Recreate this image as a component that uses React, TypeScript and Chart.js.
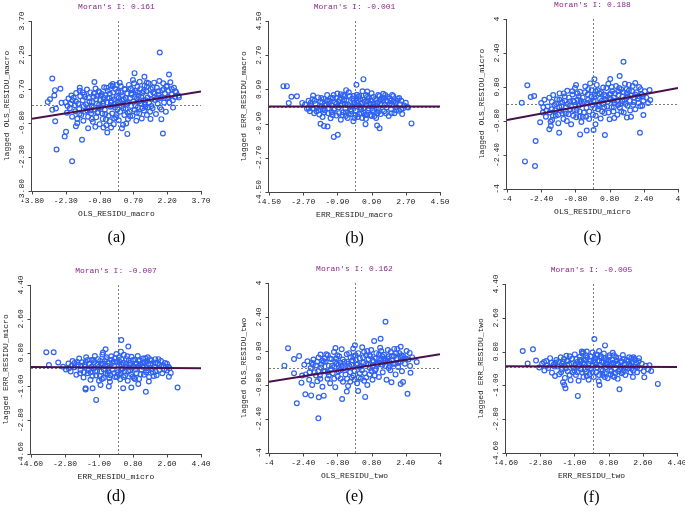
import React, { useEffect, useRef } from "react";
import { Chart, registerables } from "chart.js";

Chart.register(...registerables);

type P = [number, number];

// ---------- data ----------
const titles = ["Moran's I: 0.161", "Moran's I: -0.001", "Moran's I: 0.188", "Moran's I: -0.007", "Moran's I: 0.162", "Moran's I: -0.005"];
const xTitles = ["OLS_RESIDU_macro", "ERR_RESIDU_macro", "OLS_RESIDU_micro", "ERR_RESIDU_micro", "OLS_RESIDU_two", "ERR_RESIDU_two"];
const yTitles = ["lagged OLS_RESIDU_macro", "lagged ERR_RESIDU_macro", "lagged OLS_RESIDU_micro", "lagged ERR_RESIDU_micro", "lagged OLS_RESIDU_two", "lagged ERR_RESIDU_two"];
const letters = ["(a)", "(b)", "(c)", "(d)", "(e)", "(f)"];
const slopes = [0.161, -0.001, 0.188, -0.007, 0.162, -0.005];

const ticksA = [-3.8, -2.3, -0.8, 0.7, 2.2, 3.7];
const labelsA = ["-3.80", "-2.30", "-0.80", "0.70", "2.20", "3.70"];
const ticksB = [-4.5, -2.7, -0.9, 0.9, 2.7, 4.5];
const labelsB = ["-4.50", "-2.70", "-0.90", "0.90", "2.70", "4.50"];
const ticksC = [-4, -2.4, -0.8, 0.8, 2.4, 4];
const labelsC = ["-4", "-2.40", "-0.80", "0.80", "2.40", "4"];
const ticksD = [-4.6, -2.8, -1.0, 0.8, 2.6, 4.4];
const labelsD = ["-4.60", "-2.80", "-1.00", "0.80", "2.60", "4.40"];

const pointsA: P[] = [
  [1.87,2.31],[-2.9,1.16],[-1.03,1.01],[0.75,1.4],[2.28,1.34],[1.19,1.24],[-2.71,-1.97],[-2.02,-2.49],[-1.58,-1.54],[-2.35,-1.4],
  [-2.29,-1.19],[0.43,-1.28],[2.01,-1.26],[-0.46,-1.22],[0.19,-1.03],[-2.78,0.65],[-2.81,0.41],[-2.54,0.71],[-3.1,0.13],[-3.0,0.25],
  [-2.9,-0.22],[-2.74,-0.16],[-2.77,-0.72],[-2.49,0.09],[-1.68,0.75],[1.94,-0.63],[1.46,-0.62],[1.88,-0.12],[2.46,-0.12],[2.72,0.32],
  [2.56,0.6],[2.18,0.84],[1.29,0.99],[-0.04,0.88],[-0.22,0.82],[-1.79,-0.81],[-1.85,-0.94],[-1.31,-1.03],[-0.99,-0.97],[-0.63,-1.0],[-0.29,-1.0],
  [-2.31,0.12],[-2.25,-0.35],[-2.18,0.28],[-2.12,-0.15],[-2.05,0.41],[-2.02,-0.52],[-2.22,-0.05],[-2.09,0.05],
  [-1.95,0.31],[-1.88,-0.28],[-1.84,0.52],[-1.79,-0.61],[-1.75,0.05],[-1.71,-0.18],[-1.66,0.38],[-1.62,-0.45],[-1.9,-0.02],[-1.68,0.62],
  [-1.55,0.2],[-1.52,-0.7],[-1.48,0.45],[-1.44,-0.3],[-1.4,0.02],[-1.36,0.68],[-1.31,-0.52],[-1.28,0.3],[-1.26,-0.12],[-1.5,-0.05],
  [-1.21,0.55],[-1.18,-0.38],[-1.14,0.12],[-1.1,-0.75],[-1.06,0.36],[-1.02,-0.2],[-0.98,0.72],[-0.95,-0.55],[-0.92,0.05],[-1.15,-0.62],[-0.9,0.4],
  [-0.87,-0.32],[-0.84,0.6],[-0.8,-0.85],[-0.77,0.22],[-0.73,-0.1],[-0.7,0.48],[-0.66,-0.62],[-0.63,0.15],[-0.6,0.78],[-0.82,0.0],[-0.68,-0.38],
  [-0.57,-0.22],[-0.54,0.42],[-0.5,-0.9],[-0.47,0.1],[-0.44,0.62],[-0.4,-0.48],[-0.37,0.3],[-0.33,-0.08],[-0.3,0.85],[-0.52,-0.65],[-0.35,-0.72],
  [-0.27,0.18],[-0.24,-0.38],[-0.2,0.55],[-0.17,-0.85],[-0.14,0.02],[-0.1,0.7],[-0.07,-0.55],[-0.04,0.35],[-0.01,-0.2],[-0.22,0.92],[-0.12,-0.12],
  [0.02,0.6],[0.05,-0.68],[0.08,0.15],[0.11,-0.3],[0.14,0.82],[0.17,-0.05],[0.2,0.42],[0.24,-0.88],[0.27,0.25],[0.3,-0.45],[0.09,0.98],
  [0.33,0.68],[0.36,-0.18],[0.4,0.05],[0.43,0.5],[0.46,-0.62],[0.5,0.88],[0.53,-0.3],[0.56,0.3],[0.6,-0.05],[0.38,-0.82],[0.58,0.72],
  [0.63,0.45],[0.66,-0.48],[0.7,0.15],[0.73,0.95],[0.76,-0.22],[0.8,0.62],[0.83,-0.7],[0.86,0.28],[0.9,-0.1],[0.68,1.1],[0.88,0.8],
  [0.93,0.4],[0.96,-0.38],[1.0,0.7],[1.04,0.05],[1.07,-0.6],[1.1,0.52],[1.14,0.2],[1.17,-0.25],[1.2,0.85],[0.98,1.02],
  [1.23,-0.08],[1.27,0.6],[1.3,-0.45],[1.33,0.32],[1.37,0.95],[1.4,0.1],[1.44,-0.3],[1.47,0.7],[1.5,0.25],
  [1.55,-0.15],[1.58,0.55],[1.62,0.98],[1.66,0.22],[1.7,-0.4],[1.74,0.75],[1.78,0.05],[1.82,0.45],[1.85,1.05],
  [1.9,0.3],[1.94,-0.2],[1.98,0.65],[2.02,0.95],[2.06,0.1],[2.1,0.5],[2.14,-0.3],[2.18,0.8],[2.2,0.3],
  [2.25,0.62],[2.3,0.1],[2.34,1.0],[2.4,0.45],[2.45,0.2],[2.5,0.75],[2.55,0.35],[2.6,0.55],[2.7,0.4],
  [-1.45,0.35],[-1.35,-0.25],[-1.25,0.15],[-1.15,-0.05],[-1.05,0.5],[-0.95,0.25],[-0.85,-0.15],[-0.75,0.4],[-0.65,0.05],[-0.55,-0.4],
  [-0.45,0.3],[-0.35,0.5],[-0.25,-0.05],[-0.15,0.25],[-0.05,-0.45],[0.05,0.3],[0.15,0.55],[0.25,-0.15],[0.35,0.3],[0.45,0.1],
  [0.55,-0.5],[0.65,0.65],[0.75,0.35],[0.85,-0.35],[0.95,0.15],[1.05,0.35],[1.15,0.6],[1.25,0.2],[1.35,-0.1],[1.45,0.45],
  [1.55,0.75],[1.65,0.5],[1.75,0.3],[1.95,0.35],[2.05,0.7],[2.25,0.35],[-1.7,-0.4],[-1.55,0.55],[-2.0,0.2],[-1.85,0.15],
  [-0.6,0.3],[-0.3,0.1],[0.0,0.1],[0.3,0.7],[0.6,0.5],[0.9,0.55],[1.2,0.0],[1.5,-0.05],[-0.9,-0.35],[-1.2,-0.25],
  [-0.15,-0.6],[0.45,-0.35],[0.8,-0.05],[1.1,-0.15],[-0.5,0.75],[0.2,0.2],[-0.8,0.55],[1.3,0.8],[1.8,0.6],[2.4,0.7],
];

const pointsB: P[] = [
  [-3.74,1.07],[-3.56,1.07],[0.47,1.44],[0.1,1.14],[-3.32,0.51],[-3.03,0.54],[-2.75,0.19],[-3.46,0.18],[-2.18,0.58],[-1.79,-0.91],
  [-1.61,-1.02],[-1.42,-1.05],[-1.09,-1.6],[-0.88,-1.49],[3.0,-0.89],[1.19,-1.0],[1.32,-1.14],[0.58,-0.93],[2.51,-0.4],[2.82,-0.05],
  [-0.44,0.86],[-0.72,0.65],[1.98,0.61],[1.51,0.67],[0.67,0.79],
  [-2.6,0.1],[-2.5,-0.12],[-2.42,0.3],[-2.35,-0.25],[-2.28,0.05],[-2.2,0.38],[-2.12,-0.35],[-2.05,0.15],[-1.98,-0.08],[-1.92,0.48],
  [-1.85,-0.42],[-1.8,0.25],[-1.74,0.0],[-1.68,-0.55],[-1.62,0.4],[-1.56,-0.2],[-1.5,0.12],[-1.44,0.6],[-1.38,-0.35],[-1.32,0.3],
  [-1.26,-0.62],[-1.2,0.05],[-1.14,0.45],[-1.08,-0.18],[-1.02,0.22],[-0.96,-0.48],[-0.9,0.68],[-0.84,-0.05],[-0.78,0.35],[-0.72,-0.7],
  [-0.66,0.12],[-0.6,-0.3],[-0.54,0.55],[-0.48,-0.12],[-0.42,0.3],[-0.36,-0.6],[-0.3,0.75],[-0.24,0.02],[-0.18,-0.4],[-0.12,0.42],
  [-0.06,-0.78],[0.0,0.18],[0.06,-0.22],[0.12,0.62],[0.18,-0.55],[0.24,0.05],[0.3,0.38],[0.36,-0.35],[0.42,0.8],[0.48,-0.08],
  [0.54,0.25],[0.6,-0.65],[0.66,0.5],[0.72,-0.2],[0.78,0.12],[0.84,-0.45],[0.9,0.7],[0.96,0.0],[1.02,-0.3],[1.08,0.4],
  [1.14,-0.6],[1.2,0.2],[1.26,-0.1],[1.32,0.55],[1.38,-0.4],[1.44,0.08],[1.5,0.32],[1.56,-0.25],[1.62,0.6],[1.68,-0.05],
  [1.74,0.25],[1.8,-0.5],[1.86,0.42],[1.92,-0.15],[1.98,0.1],[2.04,0.55],[2.1,-0.35],[2.16,0.2],[2.22,-0.05],[2.28,0.4],
  [2.34,-0.22],[2.4,0.12],[2.46,0.3],[2.55,-0.1],[2.62,0.05],[2.7,0.2],[2.78,-0.02],
  [-2.0,-0.25],[-1.7,0.2],[-1.4,-0.1],[-1.1,0.6],[-0.8,-0.35],[-0.5,0.15],[-0.2,-0.15],[0.1,0.3],[0.4,-0.6],[0.7,0.3],
  [1.0,0.5],[1.3,-0.25],[1.6,0.1],[1.9,0.3],[2.2,-0.2],[-1.2,-0.3],[-0.7,0.45],[-0.3,-0.4],[0.2,0.5],[0.5,-0.35],
  [0.85,0.15],[1.15,0.05],[-0.95,0.15],[-0.05,0.55],[0.3,-0.05],[-1.6,-0.3],[1.45,0.45],[-0.45,-0.5],[0.65,-0.45],[-2.3,0.2],
  [-2.1,0.3],[-1.9,-0.2],[-1.75,0.45],[-1.55,0.05],[-1.35,0.15],[-1.15,-0.45],[-0.95,0.45],[-0.85,0.25],[-0.65,-0.45],[-0.55,0.35],
  [-0.35,0.1],[-0.25,0.55],[-0.15,-0.25],[0.05,-0.45],[0.15,0.2],[0.25,0.55],[0.35,-0.15],[0.45,0.35],[0.55,-0.45],[0.65,0.05],
  [0.75,0.45],[0.85,0.3],[0.95,-0.2],[1.05,-0.5],[1.15,0.35],[1.25,0.6],[1.35,0.15],[1.55,0.45],[1.65,-0.35],[1.75,0.5],
  [1.95,-0.35],[2.05,0.25],[2.25,0.3],[2.45,-0.15],[-2.4,-0.1],[-1.25,0.45],[-0.75,0.05],[-0.05,0.3],[0.6,0.6],[1.0,0.1],
  [-1.65,-0.15],[-1.05,-0.1],[-0.45,-0.3],[0.25,-0.4],[0.9,-0.5],[1.4,0.35],[1.85,0.15],[-0.6,0.6],[-0.1,0.0],[0.4,0.2],
  [-2.2,-0.1],[1.2,-0.35],[2.35,0.45],[-1.45,0.3],[0.0,-0.6],[0.75,-0.1],
];

const pointsC: P[] = [
  [1.45,1.99],[-3.16,-2.7],[-2.69,-2.92],[-2.66,-1.74],[-3.05,0.88],[-3.31,0.06],[-2.89,0.33],[-2.73,0.38],[-2.45,-0.86],[-2.02,-1.19],
  [-1.56,-1.35],[-0.58,-1.43],[-0.27,-1.25],[0.05,-1.22],[0.58,-1.46],[2.22,-1.35],[2.38,-0.52],[2.33,-0.08],[2.7,0.19],[2.67,0.66],
  [2.0,0.99],[1.27,1.32],[0.83,1.18],[-0.77,0.89],[0.09,1.16],[-0.11,0.97],[1.8,-0.6],[1.61,-0.64],[1.02,-0.66],[-1.89,-0.75],[-1.95,-1.04],
  [-2.4,0.05],[-2.32,-0.4],[-2.25,0.2],[-2.18,-0.6],[-2.1,-0.12],[-2.02,0.3],[-1.96,-0.82],[-1.9,-0.25],[-1.84,0.42],[-1.78,-0.05],
  [-1.72,-0.55],[-1.66,0.22],[-1.6,-0.9],[-1.54,0.5],[-1.48,-0.32],[-1.42,0.08],[-1.36,-0.7],[-1.3,0.35],[-1.24,-0.15],[-1.18,0.62],
  [-1.12,-0.48],[-1.06,0.12],[-1.0,-0.95],[-0.94,0.45],[-0.88,-0.28],[-0.82,0.75],[-0.76,-0.62],[-0.7,0.2],[-0.64,-0.08],[-0.58,0.58],
  [-0.52,-0.85],[-0.46,0.3],[-0.4,-0.4],[-0.34,0.82],[-0.28,-0.18],[-0.22,0.45],[-0.16,-0.7],[-0.1,0.1],[-0.04,0.65],[0.02,-0.5],
  [0.08,0.32],[0.14,-0.95],[0.2,0.9],[0.26,-0.25],[0.32,0.5],[0.38,-0.68],[0.44,0.15],[0.5,0.78],[0.56,-0.42],[0.62,0.38],
  [0.68,-0.12],[0.74,0.95],[0.8,-0.72],[0.86,0.22],[0.92,0.6],[0.98,-0.35],[1.04,0.05],[1.1,0.85],[1.16,-0.5],[1.22,0.42],
  [1.28,-0.18],[1.34,0.7],[1.4,0.12],[1.46,-0.4],[1.52,0.95],[1.58,0.3],[1.64,-0.08],[1.7,0.62],[1.76,-0.3],[1.82,0.4],
  [1.88,0.85],[1.94,0.1],[2.0,-0.25],[2.06,0.55],[2.12,0.25],[2.18,0.8],[2.24,-0.1],[2.3,0.45],[2.38,0.15],[2.45,0.6],[2.52,0.3],[2.6,0.05],
  [-2.0,-0.4],[-1.7,0.0],[-1.4,-0.45],[-1.1,0.3],[-0.8,-0.05],[-0.5,0.05],[-0.2,0.2],[0.1,-0.2],[0.4,0.55],[0.7,0.1],
  [1.0,0.3],[1.3,0.0],[1.6,0.5],[1.9,-0.05],[2.2,0.35],[-1.2,-0.8],[-0.6,-0.35],[0.0,-0.05],[0.3,0.0],[0.9,-0.15],
  [1.2,0.6],[-0.9,0.15],[-0.3,-0.6],[0.55,-0.15],[1.5,0.2],[-1.55,-0.15],[0.15,0.6],[-0.7,0.5],[0.8,0.45],[1.75,0.15],
  [-1.9,0.1],[-1.75,-0.3],[-1.55,0.2],[-1.45,-0.1],[-1.35,0.5],[-1.25,-0.45],[-1.15,0.0],[-1.05,-0.25],[-0.95,0.6],[-0.85,0.1],
  [-0.75,-0.3],[-0.65,0.35],[-0.55,0.15],[-0.45,-0.6],[-0.35,0.55],[-0.25,0.05],[-0.15,-0.35],[-0.05,0.35],[0.05,0.15],[0.15,-0.55],
  [0.25,0.65],[0.35,0.25],[0.45,-0.35],[0.55,0.45],[0.65,0.75],[0.75,-0.4],[0.85,0.5],[0.95,0.15],[1.05,0.5],[1.15,0.15],
  [1.25,0.75],[1.35,-0.35],[1.45,0.55],[1.55,0.0],[1.65,0.35],[1.85,0.6],[1.95,0.3],[2.15,0.05],[2.25,0.7],[2.35,0.35],
  [-2.15,-0.3],[-2.3,-0.15],[-1.6,-0.5],[-0.6,-0.6],[-0.2,0.7],[0.3,-0.1],[0.6,0.2],[1.0,-0.15],[1.4,0.35],[1.7,0.9],
  [-1.3,0.15],[-0.9,-0.55],[-0.4,0.1],[0.1,0.45],[0.5,0.0],[0.9,0.8],[1.2,-0.05],[1.6,0.7],[2.0,0.45],[-1.85,-0.55],
];

const pointsD: P[] = [
  [-3.79,0.82],[-3.4,0.82],[-3.65,0.14],[-3.16,0.27],[0.18,1.47],[0.55,1.12],[0.16,0.85],[-0.65,0.98],[-0.79,0.8],[-1.71,-1.1],
  [-1.71,-1.16],[-1.34,-1.1],[-1.15,-1.72],[0.28,-1.1],[0.71,-1.06],[1.08,-0.87],[1.48,-1.29],[3.16,-1.06],[2.7,-0.48],[2.73,-0.04],
  [1.64,-0.74],[-0.92,-0.92],[-0.48,-1.0],
  [-2.9,0.05],[-2.75,-0.1],[-2.62,0.22],[-2.5,-0.2],[-2.4,0.35],[-2.3,0.02],[-2.2,-0.38],[-2.12,0.15],[-2.05,0.48],[-1.98,-0.12],
  [-1.9,0.28],[-1.82,-0.52],[-1.75,0.05],[-1.68,0.55],[-1.6,-0.3],[-1.52,0.2],[-1.45,-0.65],[-1.38,0.4],[-1.3,-0.05],[-1.22,0.62],
  [-1.15,-0.42],[-1.08,0.15],[-1.0,-0.7],[-0.94,0.35],[-0.88,-0.2],[-0.82,0.7],[-0.75,-0.55],[-0.68,0.08],[-0.62,0.45],[-0.55,-0.35],
  [-0.48,0.25],[-0.42,-0.75],[-0.35,0.6],[-0.28,-0.1],[-0.22,0.32],[-0.15,-0.5],[-0.08,0.72],[-0.02,-0.25],[0.05,0.12],[0.12,-0.62],
  [0.18,0.45],[0.25,-0.05],[0.32,0.68],[0.38,-0.42],[0.45,0.2],[0.52,-0.7],[0.58,0.38],[0.65,-0.15],[0.72,0.58],[0.78,-0.48],
  [0.85,0.05],[0.92,0.42],[0.98,-0.3],[1.05,0.62],[1.12,-0.6],[1.18,0.18],[1.25,-0.1],[1.32,0.48],[1.38,-0.38],[1.45,0.28],
  [1.52,-0.02],[1.58,0.55],[1.65,-0.5],[1.72,0.15],[1.78,0.38],[1.85,-0.25],[1.92,0.05],[1.98,0.45],[2.05,-0.4],[2.12,0.22],
  [2.2,-0.12],[2.28,0.35],[2.35,-0.3],[2.42,0.1],[2.5,0.25],[2.58,-0.15],[2.68,0.05],[2.8,-0.28],
  [-2.0,-0.3],[-1.7,0.3],[-1.4,0.05],[-1.1,-0.2],[-0.8,0.2],[-0.5,-0.05],[-0.2,0.1],[0.1,0.3],[0.4,0.05],[0.7,-0.35],
  [1.0,0.2],[1.3,0.25],[1.6,0.2],[1.9,-0.45],[2.2,0.15],[-1.25,0.3],[-0.65,-0.3],[-0.05,-0.5],[0.3,0.25],[0.95,-0.1],
  [1.5,-0.25],[-0.95,-0.45],[0.6,0.15],[-0.35,0.4],[0.15,-0.3],[1.15,0.4],[-1.55,-0.15],[2.0,0.25],[-0.45,-0.55],[0.85,-0.55],
  [-2.15,0.3],[-1.95,0.1],[-1.8,-0.25],[-1.6,0.4],[-1.45,-0.25],[-1.3,0.4],[-1.2,-0.2],[-1.05,0.45],[-0.9,0.2],[-0.75,-0.1],
  [-0.7,0.35],[-0.55,0.1],[-0.4,-0.4],[-0.3,0.25],[-0.15,0.5],[-0.05,0.3],[0.05,-0.35],[0.2,0.15],[0.3,-0.5],[0.45,0.45],
  [0.55,-0.2],[0.65,0.25],[0.8,0.4],[0.9,-0.6],[1.05,0.05],[1.2,-0.35],[1.3,0.05],[1.45,0.5],[1.6,-0.15],[1.7,0.45],
  [1.85,0.2],[2.0,-0.2],[2.15,0.45],[2.3,0.05],[2.45,-0.1],[-2.45,0.1],[-2.6,-0.05],[-1.0,0.05],[-0.2,-0.3],[0.5,0.6],
  [1.35,0.25],[-0.85,-0.6],[0.05,0.55],[0.7,0.0],[1.1,0.35],[-1.35,-0.45],[-0.6,0.55],[0.35,-0.2],[1.8,-0.1],[2.6,0.2],
  [-1.75,0.15],[0.95,0.2],[-0.5,-0.2],[0.2,-0.1],[1.55,0.35],[-2.3,0.25],
];

const pointsE: P[] = [
  [1.45,2.18],[-3.11,0.93],[-3.28,0.11],[-2.83,0.42],[-2.83,-0.25],[-2.59,0.56],[-2.7,-1.66],[-2.48,-0.69],[-2.3,-1.24],[-2.03,-1.29],
  [-1.67,-1.38],[-1.44,-1.3],[-1.69,-2.37],[-0.58,-1.46],[-0.36,-1.11],[0.17,-1.08],[0.5,-1.36],[2.48,-1.21],[2.16,-0.75],[2.27,-0.66],
  [1.73,-0.67],[2.62,-0.22],[2.91,0.28],[2.58,0.71],[1.22,1.38],[0.92,1.27],[2.16,1.0],[-0.89,0.94],[0.02,1.07],[-1.59,0.63],[-2.45,-0.35],
  [-2.35,0.15],[-2.28,-0.3],[-2.2,0.32],[-2.12,-0.55],[-2.05,0.0],[-1.98,-0.8],[-1.92,0.4],[-1.86,-0.2],[-1.8,0.12],[-1.74,-0.62],
  [-1.68,0.5],[-1.62,-0.35],[-1.56,0.02],[-1.5,-0.88],[-1.44,0.3],[-1.38,-0.15],[-1.32,0.65],[-1.26,-0.5],[-1.2,0.1],[-1.14,-0.72],
  [-1.08,0.42],[-1.02,-0.25],[-0.96,0.75],[-0.9,-0.9],[-0.84,0.2],[-0.78,-0.4],[-0.72,0.55],[-0.66,-0.1],[-0.6,0.88],[-0.54,-0.65],
  [-0.48,0.3],[-0.42,-0.3],[-0.36,0.65],[-0.3,-0.85],[-0.24,0.1],[-0.18,0.5],[-0.12,-0.45],[-0.06,0.92],[0.0,-0.15],[0.06,0.38],
  [0.12,-0.72],[0.18,0.7],[0.24,0.05],[0.3,-0.5],[0.36,0.98],[0.42,0.25],[0.48,-0.25],[0.54,0.6],[0.6,-0.8],[0.66,0.42],
  [0.72,0.0],[0.78,0.85],[0.84,-0.55],[0.9,0.3],[0.96,-0.12],[1.02,0.7],[1.08,0.15],[1.14,-0.42],[1.2,0.95],[1.26,0.4],
  [1.32,-0.2],[1.38,0.62],[1.44,0.1],[1.5,-0.55],[1.56,0.85],[1.62,0.3],[1.68,-0.1],[1.74,0.55],[1.8,0.2],[1.86,0.9],
  [1.92,-0.3],[1.98,0.45],[2.04,0.05],[2.1,0.7],[2.16,0.3],[2.22,-0.15],[2.28,0.55],[2.36,0.2],[2.44,0.8],[2.52,0.4],[2.6,0.1],[2.7,0.5],
  [-2.0,0.25],[-1.7,-0.15],[-1.4,0.45],[-1.1,-0.05],[-0.8,0.6],[-0.5,0.0],[-0.2,-0.2],[0.1,0.15],[0.4,0.5],[0.7,-0.3],
  [1.0,0.45],[1.3,0.15],[1.6,0.55],[1.9,0.2],[2.2,0.6],[-1.2,-0.35],[-0.65,0.25],[-0.05,0.55],[0.25,-0.25],[0.85,0.1],
  [1.45,0.35],[-0.95,0.05],[-0.35,0.3],[0.55,0.2],[1.15,0.65],[-1.55,0.15],[0.0,-0.55],[0.45,-0.6],[1.7,0.75],[-0.75,-0.15],
  [-2.1,-0.2],[-1.95,0.15],[-1.75,0.3],[-1.6,-0.5],[-1.45,-0.15],[-1.35,0.3],[-1.25,-0.2],[-1.15,0.45],[-1.05,0.1],[-0.95,-0.5],
  [-0.85,0.45],[-0.75,0.15],[-0.65,-0.5],[-0.55,0.4],[-0.45,-0.1],[-0.35,-0.5],[-0.25,0.7],[-0.15,0.15],[-0.05,-0.35],[0.05,0.6],
  [0.15,0.2],[0.25,0.45],[0.35,-0.1],[0.45,0.75],[0.55,-0.45],[0.65,0.15],[0.75,0.55],[0.85,0.35],[0.95,-0.35],[1.05,0.2],
  [1.15,0.45],[1.25,0.8],[1.35,0.25],[1.55,0.45],[1.65,0.1],[1.75,0.35],[1.95,0.7],[2.05,0.25],[2.25,0.4],[2.4,0.45],
  [-1.8,-0.35],[-1.25,0.6],[-0.6,0.1],[-0.1,0.35],[0.3,0.1],[0.6,0.8],[1.0,-0.05],[1.4,0.45],[1.85,0.55],[2.15,0.5],
  [-0.9,0.3],[-0.3,0.2],[0.2,-0.45],[0.8,-0.15],[1.3,0.55],[1.6,0.0],[-1.5,0.35],[0.7,0.6],[-0.2,-0.65],[2.0,0.9],
];

const pointsF: P[] = [
  [-3.72,0.83],[-3.18,0.92],[-3.46,0.16],[-3.02,0.32],[0.05,1.47],[0.61,1.13],[0.3,0.83],[-1.6,-0.83],[-1.47,-1.15],[-1.53,-0.98],
  [-0.82,-1.56],[0.32,-0.98],[1.37,-1.21],[3.39,-0.92],[3.04,-0.23],[2.95,0.07],[2.68,-0.57],[2.11,0.5],[1.02,0.74],[-0.53,0.76],
  [-0.61,0.8],[-0.35,0.8],
  [-2.85,-0.05],[-2.7,0.15],[-2.58,-0.2],[-2.48,0.3],[-2.38,-0.08],[-2.28,0.45],[-2.18,-0.32],[-2.1,0.1],[-2.02,-0.5],[-1.95,0.35],
  [-1.88,0.0],[-1.8,-0.4],[-1.72,0.5],[-1.65,-0.15],[-1.58,0.25],[-1.5,-0.6],[-1.42,0.58],[-1.35,-0.25],[-1.28,0.12],[-1.2,-0.72],
  [-1.12,0.42],[-1.05,-0.05],[-0.98,0.65],[-0.92,-0.45],[-0.85,0.25],[-0.78,-0.75],[-0.72,0.52],[-0.65,-0.15],[-0.58,0.7],[-0.52,-0.55],
  [-0.45,0.15],[-0.38,-0.28],[-0.32,0.48],[-0.25,-0.7],[-0.18,0.3],[-0.12,-0.12],[-0.05,0.75],[0.02,-0.55],[0.08,0.22],[0.15,-0.3],
  [0.22,0.62],[0.28,-0.78],[0.35,0.1],[0.42,0.45],[0.48,-0.45],[0.55,0.7],[0.62,-0.05],[0.68,0.35],[0.75,-0.62],[0.82,0.5],
  [0.88,-0.2],[0.95,0.15],[1.02,-0.5],[1.08,0.6],[1.15,-0.1],[1.22,0.3],[1.28,-0.65],[1.35,0.45],[1.42,0.0],[1.48,-0.35],
  [1.55,0.62],[1.62,0.1],[1.68,-0.45],[1.75,0.35],[1.82,-0.1],[1.88,0.5],[1.95,-0.3],[2.02,0.2],[2.08,-0.55],[2.15,0.4],
  [2.22,0.0],[2.3,-0.3],[2.38,0.28],[2.45,-0.1],[2.55,0.15],[2.65,-0.25],[2.75,0.05],[2.88,-0.15],
  [-2.0,0.2],[-1.7,-0.3],[-1.4,0.3],[-1.1,-0.3],[-0.8,0.0],[-0.5,0.35],[-0.2,-0.4],[0.1,0.45],[0.4,-0.15],[0.7,0.15],
  [1.0,0.35],[1.3,0.1],[1.6,-0.2],[1.9,0.15],[2.2,0.35],[-1.25,0.55],[-0.65,0.3],[-0.05,0.05],[0.3,0.3],[0.9,-0.4],
  [1.5,0.25],[-0.95,0.1],[0.6,-0.35],[-0.35,-0.5],[0.15,0.1],[1.15,-0.35],[-1.55,0.05],[2.0,-0.1],[-0.4,0.6],[0.8,0.3],
  [-2.2,0.2],[-2.05,0.0],[-1.85,0.25],[-1.65,0.15],[-1.45,-0.1],[-1.35,0.3],[-1.15,0.15],[-1.0,-0.2],[-0.9,0.4],[-0.75,0.1],
  [-0.6,-0.3],[-0.55,0.2],[-0.4,0.35],[-0.3,-0.05],[-0.15,0.55],[-0.05,-0.3],[0.05,0.35],[0.2,-0.05],[0.3,-0.45],[0.45,0.25],
  [0.55,0.45],[0.6,-0.55],[0.75,0.1],[0.85,0.6],[0.95,-0.25],[1.05,0.2],[1.2,0.5],[1.3,-0.25],[1.45,0.3],[1.6,0.4],
  [1.7,-0.05],[1.85,0.3],[2.0,0.45],[2.1,-0.2],[2.25,0.2],[2.4,0.45],[-2.45,0.05],[-2.6,0.25],[-1.25,-0.45],[-0.25,0.15],
  [0.15,0.65],[0.65,0.2],[1.1,-0.55],[1.55,-0.3],[-0.85,-0.3],[-0.45,-0.15],[0.4,0.55],[0.9,0.05],[1.25,0.15],[1.95,0.05],
  [-1.55,0.4],[-0.7,0.35],[0.0,0.3],[0.5,-0.2],[1.4,-0.15],[2.3,-0.05],
];

const allPoints = [pointsA, pointsB, pointsC, pointsD, pointsE, pointsF];
const allTicks = [ticksA, ticksB, ticksC, ticksD, ticksC, ticksD];
const allLabels = [labelsA, labelsB, labelsC, labelsD, labelsC, labelsD];

// ---------- layout / style ----------
const cells = [
  { x: 0, y: 0, w: 228, h: 250 }, { x: 228, y: 0, w: 228, h: 250 }, { x: 456, y: 0, w: 229, h: 250 },
  { x: 0, y: 250, w: 228, h: 261 }, { x: 228, y: 250, w: 228, h: 261 }, { x: 456, y: 250, w: 229, h: 261 },
];
const areas = [
  { l: 32, t: 21, r: 201, b: 191 }, { l: 269, t: 21, r: 440, b: 192 }, { l: 507, t: 19, r: 678, b: 189 },
  { l: 31, t: 285, r: 201, b: 454 }, { l: 269, t: 283, r: 440, b: 453 }, { l: 506, t: 284, r: 677, b: 453 },
];
const letterOffsets = [47, 47, 49, 43, 44, 45];

const BLUE = "#2f62f0";
const LINE = "#4a0f4c";
const TITLE = "#8a2a8a";
const AXIS = "#444444";
const TEXT = "#1a1a1a";
const MONO = '8px "Liberation Mono", "DejaVu Sans Mono", monospace';

function makeDeco(idx: number) {
  return {
    id: "deco" + idx,
    beforeDatasetsDraw(chart: any) {
      const { ctx, chartArea: a, scales } = chart;
      const x0 = Math.round(scales.x.getPixelForValue(0)) + 0.5;
      const y0 = Math.round(scales.y.getPixelForValue(0)) + 0.5;
      ctx.save();
      ctx.strokeStyle = "#7c7c7c";
      ctx.lineWidth = 1;
      ctx.setLineDash([2, 2]);
      ctx.beginPath();
      ctx.moveTo(x0, a.top);
      ctx.lineTo(x0, a.bottom);
      ctx.moveTo(a.left, y0);
      ctx.lineTo(a.right, y0);
      ctx.stroke();
      ctx.restore();
    },
    afterDraw(chart: any) {
      const { ctx, chartArea: a, scales } = chart;
      const ticks = allTicks[idx];
      const labels = allLabels[idx];
      const L = Math.round(a.left) - 0.5;
      const B = Math.round(a.bottom) + 0.5;
      ctx.save();
      ctx.strokeStyle = AXIS;
      ctx.lineWidth = 1;
      ctx.beginPath();
      ctx.moveTo(L, a.top);
      ctx.lineTo(L, B);
      ctx.lineTo(a.right + 1, B);
      ticks.forEach((v) => {
        const px = Math.round(scales.x.getPixelForValue(v)) + 0.5;
        ctx.moveTo(px, B);
        ctx.lineTo(px, B + 3);
        const py = Math.round(scales.y.getPixelForValue(v)) + 0.5;
        ctx.moveTo(L, py);
        ctx.lineTo(L - 3, py);
      });
      ctx.stroke();

      ctx.font = MONO;
      ctx.fillStyle = TEXT;
      ctx.textAlign = "center";
      ctx.textBaseline = "middle";
      ticks.forEach((v, i) => {
        ctx.fillText(labels[i], scales.x.getPixelForValue(v), a.bottom + 10);
        ctx.save();
        ctx.translate(a.left - 10, scales.y.getPixelForValue(v));
        ctx.rotate(-Math.PI / 2);
        ctx.fillText(labels[i], 0, 0);
        ctx.restore();
      });

      const cx = (a.left + a.right) / 2;
      const cy = (a.top + a.bottom) / 2;
      ctx.fillText(xTitles[idx], cx, a.bottom + 23);
      ctx.save();
      ctx.translate(a.left - 25, cy);
      ctx.rotate(-Math.PI / 2);
      ctx.fillText(yTitles[idx], 0, 0);
      ctx.restore();

      ctx.fillStyle = TITLE;
      ctx.fillText(titles[idx], cx, a.top - 14);

      ctx.fillStyle = "#000";
      ctx.font = '16px "Liberation Serif", "DejaVu Serif", serif';
      ctx.fillText(letters[idx], cx, a.bottom + letterOffsets[idx]);
      ctx.restore();
    },
  };
}

function Panel({ idx }: { idx: number }) {
  const ref = useRef<HTMLCanvasElement>(null);
  const cell = cells[idx];
  useEffect(() => {
    const area = areas[idx];
    const ticks = allTicks[idx];
    const lo = ticks[0];
    const hi = ticks[ticks.length - 1];
    const s = slopes[idx];
    const chart = new Chart(ref.current as HTMLCanvasElement, {
      type: "scatter",
      data: {
        datasets: [
          {
            type: "line",
            data: [{ x: lo, y: s * lo }, { x: hi, y: s * hi }],
            borderColor: LINE,
            borderWidth: 2,
            pointRadius: 0,
            showLine: true,
            fill: false,
            order: 0,
          } as any,
          {
            type: "scatter",
            data: allPoints[idx].map(([x, y]) => ({ x, y })),
            pointRadius: 2.4,
            pointBorderWidth: 1.2,
            pointBorderColor: BLUE,
            pointBackgroundColor: "rgba(255,255,255,0)",
            borderColor: BLUE,
            backgroundColor: "rgba(255,255,255,0)",
            order: 1,
          } as any,
        ],
      },
      options: {
        responsive: false,
        animation: false,
        devicePixelRatio: 1,
        events: [],
        layout: {
          padding: {
            left: area.l - cell.x,
            top: area.t - cell.y,
            right: cell.x + cell.w - area.r,
            bottom: cell.y + cell.h - area.b,
          },
        },
        scales: {
          x: { type: "linear", min: lo, max: hi, display: false },
          y: { type: "linear", min: lo, max: hi, display: false },
        },
        plugins: { legend: { display: false }, tooltip: { enabled: false }, title: { display: false } },
      } as any,
      plugins: [makeDeco(idx)],
    });
    return () => chart.destroy();
  }, [idx]);
  return (
    <canvas
      ref={ref}
      width={cell.w}
      height={cell.h}
      style={{ position: "absolute", left: cell.x, top: cell.y, width: cell.w, height: cell.h }}
    />
  );
}

export default function App() {
  return (
    <div style={{ position: "fixed", left: 0, top: 0, width: 685, height: 511, background: "#fff" }}>
      {[0, 1, 2, 3, 4, 5].map((i) => (
        <Panel key={i} idx={i} />
      ))}
    </div>
  );
}
